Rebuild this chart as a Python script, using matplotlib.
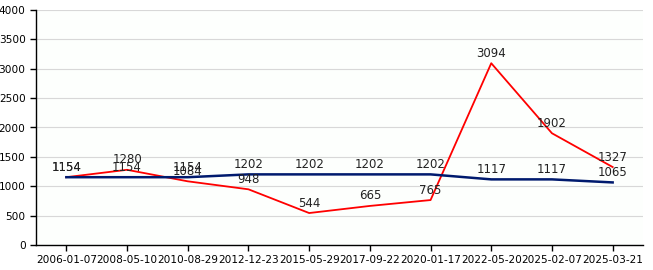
import matplotlib
matplotlib.use("Agg")
import matplotlib.pyplot as plt
import numpy as np

dates = ["2006-01-07", "2008-05-10", "2010-08-29", "2012-12-23", "2015-05-29",
         "2017-09-22", "2020-01-17", "2022-05-20", "2025-02-07", "2025-03-21"]
red_values = [1154, 1280, 1084, 948, 544, 665, 765, 3094, 1902, 1327]
blue_values = [1154, 1154, 1154, 1202, 1202, 1202, 1202, 1117, 1117, 1065]

fig = plt.figure(figsize=(6.53, 2.70), dpi=100)
fig.patch.set_facecolor("white")
ax = fig.add_axes([36 / 653, 25 / 270, 607 / 653, 235 / 270])
ax.set_facecolor("#fdfffd")

x = np.arange(len(dates))
ax.plot(x, red_values, color="#ff0000", lw=1.3, zorder=3)
ax.plot(x, blue_values, color="#001a6e", lw=1.8, zorder=3)

# value labels sit just above each point (they overlap in places, as in the original)
for xi, v in zip(x, red_values):
    ax.text(xi, v + 60, str(v), ha="center", va="bottom", fontsize=8.5, color="#222222", zorder=4)
for xi, v in zip(x, blue_values):
    ax.text(xi, v + 60, str(v), ha="center", va="bottom", fontsize=8.5, color="#222222", zorder=4)

ax.set_xlim(-0.5, len(dates) - 0.5)
ax.set_ylim(0, 4000)
ax.set_yticks(range(0, 4001, 500))
ax.set_xticks(x)
ax.set_xticklabels(dates)
ax.tick_params(axis="both", labelsize=7.6, colors="black", length=4, width=1)
ax.tick_params(axis="x", pad=3)
ax.grid(axis="y", color="#d8d8d8", lw=0.8)
ax.set_axisbelow(True)
for s in ["top", "right"]:
    ax.spines[s].set_visible(False)
for s in ["left", "bottom"]:
    ax.spines[s].set_color("black")
    ax.spines[s].set_linewidth(1)

fig.savefig("out.png", dpi=100)
